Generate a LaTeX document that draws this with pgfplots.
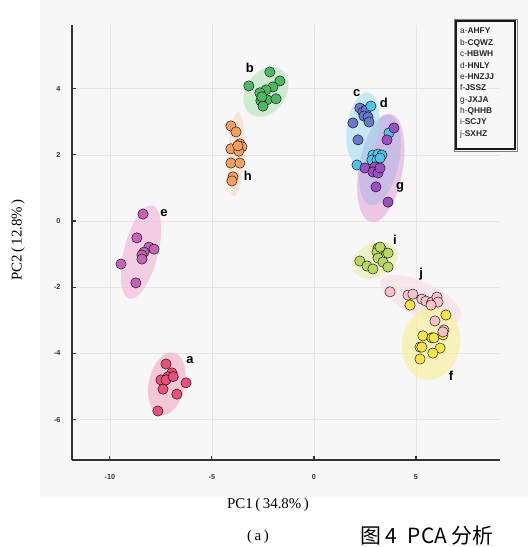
\documentclass[border=0pt]{standalone}
\usepackage{pgfplots}
\pgfplotsset{compat=1.18}
\usepackage{fontspec}
\setmainfont{Liberation Serif}
\setsansfont{Liberation Sans}
\newfontfamily\cjk{Noto Sans CJK SC}
\definecolor{ca}{HTML}{E8507A}
\definecolor{cb}{HTML}{4CB864}
\definecolor{cc}{HTML}{6A78CC}
\definecolor{cd}{HTML}{4FC3E8}
\definecolor{ce}{HTML}{C462B4}
\definecolor{cf}{HTML}{F2E447}
\definecolor{cg}{HTML}{9A50C0}
\definecolor{ch}{HTML}{F2A05E}
\definecolor{ci}{HTML}{B8D862}
\definecolor{cj}{HTML}{F4C2C8}
\definecolor{ea}{HTML}{F2A8C0}
\definecolor{eb}{HTML}{BDE6C2}
\definecolor{ec}{HTML}{A6DDF2}
\definecolor{ed}{HTML}{B4B4EA}
\definecolor{ee}{HTML}{F0BCDC}
\definecolor{ef}{HTML}{F8F0A0}
\definecolor{eg}{HTML}{E4A8D8}
\definecolor{eh}{HTML}{FADCC4}
\definecolor{ei}{HTML}{ECF4BC}
\definecolor{ej}{HTML}{FAE0E6}
\begin{document}
\begin{tikzpicture}
\useasboundingbox (0,0) rectangle (528bp,547bp);
\fill[black!3] (40bp,50bp) rectangle (528bp,547bp);
\begin{axis}[at={(72bp,87bp)}, anchor=south west, scale only axis,
  width=428bp, height=435bp,
  xmin=-11.86, xmax=9.12, ymin=-7.22, ymax=5.92,
  axis lines=left, axis line style={-, line width=1.1pt, black!80},
  xtick={-10,-5,0,5}, xticklabels={-10,-5,0,5},
  ytick={-6,-4,-2,0,2,4}, yticklabels={-6,-4,-2,0,2,4},
  tick align=inside, major tick length=4bp,
  tick style={line width=1.1pt, black!80},
  grid=major, grid style={line width=0.5pt, black!10},
  tick label style={font=\sffamily\bfseries\fontsize{7.3}{8}\selectfont, text=black!80},
  xticklabel style={yshift=-11bp}, yticklabel style={xshift=-8bp},
  clip=false,
  every axis plot/.append style={only marks, mark=*, mark size=5.2pt,
    mark options={draw=black!75, line width=0.8pt, fill opacity=0.8}},
]
% confidence ellipses
\fill[ea, fill opacity=0.6] (axis cs:-7.21,-4.92) ellipse [x radius=18bp, y radius=32bp, rotate=-12];
\fill[eb, fill opacity=0.7] (axis cs:-2.35,3.90) ellipse [x radius=20bp, y radius=27bp, rotate=-35];
\fill[eh, fill opacity=0.7] (axis cs:-3.82,2.02) ellipse [x radius=8bp, y radius=42bp, rotate=-3];
\fill[ee, fill opacity=0.7] (axis cs:-8.48,-0.94) ellipse [x radius=17bp, y radius=48bp, rotate=-14];
\fill[eg, fill opacity=0.6] (axis cs:3.28,1.60) ellipse [x radius=22bp, y radius=55bp, rotate=-10];
\fill[ed, fill opacity=0.6] (axis cs:3.24,1.84) ellipse [x radius=19bp, y radius=46bp, rotate=-12];
\fill[ec, fill opacity=0.6] (axis cs:2.40,2.80) ellipse [x radius=16bp, y radius=36bp, rotate=-8];
\fill[ei, fill opacity=0.8] (axis cs:2.99,-1.18) ellipse [x radius=24bp, y radius=17bp, rotate=25];
\fill[ej, fill opacity=0.7] (axis cs:5.25,-2.36) ellipse [x radius=44bp, y radius=17bp, rotate=-25];
\fill[ef, fill opacity=0.7] (axis cs:5.74,-3.69) ellipse [x radius=29bp, y radius=37bp, rotate=-10];
% a
\addplot[mark options={fill=ca}] coordinates {(-7.25,-4.32) (-6.96,-4.59) (-7.16,-4.71) (-7.50,-4.80) (-7.25,-4.80) (-6.90,-4.70) (-6.27,-4.89) (-7.40,-5.08) (-6.72,-5.23) (-7.65,-5.74)};
% b
\addplot[mark options={fill=cb}] coordinates {(-2.16,4.50) (-3.19,4.08) (-1.67,4.23) (-2.01,4.05) (-2.35,3.96) (-2.65,3.87) (-2.30,3.66) (-1.86,3.69) (-2.60,3.63) (-2.50,3.47) (-2.55,3.75)};
% c
\addplot[mark options={fill=cc}] coordinates {(2.25,3.41) (2.40,3.29) (2.55,3.35) (2.45,3.17) (2.65,3.14) (2.70,2.99) (1.91,2.96) (2.16,2.45)};
% d
\addplot[mark options={fill=cd}] coordinates {(2.79,3.47) (3.68,2.66) (2.11,1.69) (2.89,1.99) (3.14,2.02) (3.33,1.99) (2.84,1.84) (3.09,1.84) (3.24,1.90)};
% e
\addplot[mark options={fill=ce}] coordinates {(-8.38,0.21) (-8.68,-0.51) (-8.09,-0.79) (-7.84,-0.85) (-8.33,-0.94) (-8.43,-1.03) (-8.43,-1.15) (-9.46,-1.30) (-8.73,-1.87)};
% f
\addplot[mark options={fill=cf}] coordinates {(4.71,-2.54) (6.47,-2.84) (5.34,-3.47) (5.78,-3.53) (5.88,-3.53) (6.32,-3.44) (5.20,-3.81) (5.29,-3.81) (6.18,-3.84) (5.83,-3.99) (5.20,-4.17)};
% g
\addplot[mark options={fill=cg}] coordinates {(3.92,2.81) (3.58,2.45) (2.50,1.60) (2.99,1.63) (2.89,1.48) (3.14,1.45) (3.24,1.60) (3.04,1.03) (3.63,0.57)};
% h
\addplot[mark options={fill=ch}] coordinates {(-4.07,2.87) (-3.82,2.69) (-3.63,2.33) (-3.53,2.24) (-4.07,2.18) (-3.68,2.11) (-3.73,2.27) (-4.07,1.75) (-3.63,1.75) (-3.97,1.33) (-4.02,1.21)};
% i
\addplot[mark options={fill=ci}] coordinates {(3.14,-0.82) (3.33,-0.88) (3.09,-0.94) (3.63,-0.97) (3.14,-1.12) (2.25,-1.21) (2.60,-1.36) (2.89,-1.45) (3.38,-1.24) (3.63,-1.39) (3.24,-0.79)};
% j
\addplot[mark options={fill=cj}] coordinates {(3.73,-2.14) (4.61,-2.24) (4.85,-2.21) (5.29,-2.36) (5.49,-2.42) (5.78,-2.45) (6.03,-2.30) (6.08,-2.45) (5.74,-2.54) (5.93,-3.02) (6.37,-3.29) (6.32,-3.35)};
% group labels
\begin{scope}[every node/.style={font=\sffamily\bfseries\fontsize{13}{13}\selectfont}]
\node at (axis cs:-6.08,-4.20) {a};
\node at (axis cs:-3.14,4.62) {b};
\node at (axis cs:2.10,3.87) {c};
\node at (axis cs:3.43,3.56) {d};
\node at (axis cs:-7.35,0.23) {e};
\node at (axis cs:6.72,-4.68) {f};
\node at (axis cs:4.22,1.00) {g};
\node at (axis cs:-3.24,1.36) {h};
\node at (axis cs:3.97,-0.57) {i};
\node at (axis cs:5.25,-1.60) {j};
\end{scope}
\end{axis}
% legend
\draw[black!50, line width=0.5pt] (454bp,396bp) rectangle (517bp,528bp);
\draw[black!90, line width=1.2pt] (456bp,398bp) rectangle (515bp,526bp);
\node[anchor=north west, inner sep=0pt, align=left, font=\sffamily\fontsize{8.4}{11.4}\selectfont, text=black!85] at (460bp,519bp)
{a-\textbf{AHFY}\\ b-\textbf{CQWZ}\\ c-\textbf{HBWH}\\ d-\textbf{HNLY}\\ e-\textbf{HNZJJ}\\ f-\textbf{JSSZ}\\ g-\textbf{JXJA}\\ h-\textbf{QHHB}\\ i-\textbf{SCJY}\\ j-\textbf{SXHZ}};
% axis titles
\node[rotate=90, font=\fontsize{15}{15}\selectfont] at (18bp,307bp) {PC2\,(\,12.8\%\,)};
\node[font=\fontsize{15}{15}\selectfont] at (268bp,42bp) {PC1\,(\,34.8\%\,)};
\node[font=\fontsize{15}{15}\selectfont] at (258bp,10bp) {(\,a\,)};
\node[anchor=south west, inner sep=0pt, font=\cjk\fontsize{21}{21}\selectfont] at (360bp,2bp) {图 4\enspace PCA 分析};
\end{tikzpicture}
\end{document}
